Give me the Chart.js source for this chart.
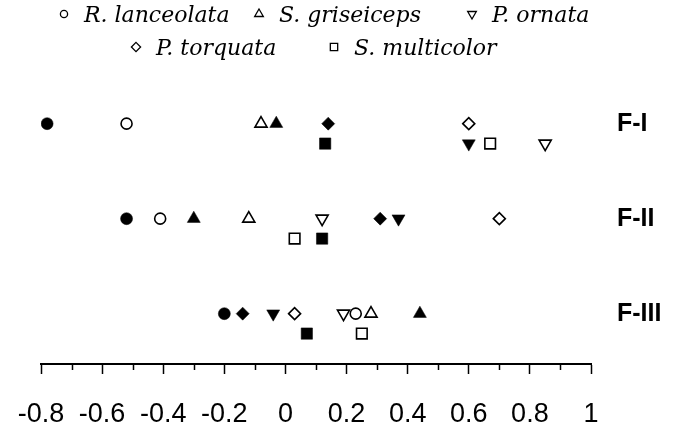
<!DOCTYPE html>
<html>
<head>
<meta charset="utf-8">
<script src="https://cdn.jsdelivr.net/npm/chart.js@4/dist/chart.umd.min.js"></script>
<style>
  html, body { margin: 0; padding: 0; background: #fff; }
  canvas { display: block; }
</style>
</head>
<body>
<canvas id="c" width="675" height="427"></canvas>
<script>
// ---- data ----
const rows = ['F-I', 'F-II', 'F-III'];
const species = ['R. lanceolata', 'S. griseiceps', 'P. ornata', 'P. torquata', 'S. multicolor'];

const lanceolataOpen   = [-0.52, -0.41, 0.23];
const lanceolataFilled = [-0.78, -0.52, -0.20];
const griseicepsOpen   = [-0.08, -0.12, 0.28];
const griseicepsFilled = [-0.03, -0.30, 0.44];
const ornataOpen       = [0.85, 0.12, 0.19];
const ornataFilled     = [0.60, 0.37, -0.04];
const torquataOpen     = [0.60, 0.70, 0.03];
const torquataFilled   = [0.14, 0.31, -0.14];
const multicolorOpen   = [0.67, 0.03, 0.25];
const multicolorFilled = [0.13, 0.12, 0.07];

// sub-row (0 = upper line, 1 = lower line) of each row
const laneUpper      = [0, 0, 0];
const ornataLane     = [1, 0, 0];
const multicolorLane = [1, 1, 1];

const xTickValues  = [-0.8, -0.6, -0.4, -0.2, 0, 0.2, 0.4, 0.6, 0.8, 1];
const xMinorTicks  = [-0.7, -0.5, -0.3, -0.1, 0.1, 0.3, 0.5, 0.7, 0.9];

// ---- styling ----
const laneOffset = 0.21;
const markers = [
  { style: 'circle',   rotation: 0,   radius: 6,   legendRadius: 3.6 },
  { style: 'triangle', rotation: 0,   radius: 7.5, legendRadius: 5 },
  { style: 'triangle', rotation: 180, radius: 7.5, legendRadius: 5 },
  { style: 'rectRot',  rotation: 0,   radius: 6.5, legendRadius: 4.6 },
  { style: 'rect',     rotation: 0,   radius: 8,   legendRadius: 5.2 }
];

function pts(values, lanes) {
  return values.map((v, i) => ({ x: v, y: i + lanes[i] * laneOffset }));
}

function ds(label, values, lanes, mi, filled) {
  const m = markers[mi];
  return {
    label: label,
    data: pts(values, lanes),
    pointStyle: m.style,
    pointRotation: m.rotation,
    pointRadius: filled ? m.radius : m.radius - 0.5,
    pointHoverRadius: m.radius,
    pointBackgroundColor: filled ? '#000' : '#fff',
    pointBorderColor: '#000',
    pointBorderWidth: filled ? 0.5 : 1.6,
    showLine: false
  };
}

const datasets = [
  ds(species[0], lanceolataOpen, laneUpper, 0, false),
  ds(species[0] + ' (filled)', lanceolataFilled, laneUpper, 0, true),
  ds(species[1], griseicepsOpen, laneUpper, 1, false),
  ds(species[1] + ' (filled)', griseicepsFilled, laneUpper, 1, true),
  ds(species[2], ornataOpen, ornataLane, 2, false),
  ds(species[2] + ' (filled)', ornataFilled, ornataLane, 2, true),
  ds(species[3], torquataOpen, laneUpper, 3, false),
  ds(species[3] + ' (filled)', torquataFilled, laneUpper, 3, true),
  ds(species[4], multicolorOpen, multicolorLane, 4, false),
  ds(species[4] + ' (filled)', multicolorFilled, multicolorLane, 4, true)
];

// ---- custom legend (two lines) ----
const legendLayout = [
  { item: 0, mx: 64,  y: 14 },
  { item: 1, mx: 259, y: 14 },
  { item: 2, mx: 472, y: 14 },
  { item: 3, mx: 136, y: 47 },
  { item: 4, mx: 334, y: 47 }
];

function drawLegendMarker(ctx, m, x, y) {
  const r = m.legendRadius;
  ctx.beginPath();
  if (m.style === 'circle') {
    ctx.arc(x, y, r, 0, Math.PI * 2);
  } else if (m.style === 'triangle') {
    const dir = m.rotation === 180 ? -1 : 1;
    ctx.moveTo(x, y - dir * r);
    ctx.lineTo(x + r * 0.866, y + dir * r * 0.5);
    ctx.lineTo(x - r * 0.866, y + dir * r * 0.5);
    ctx.closePath();
  } else if (m.style === 'rectRot') {
    ctx.moveTo(x, y - r);
    ctx.lineTo(x + r, y);
    ctx.lineTo(x, y + r);
    ctx.lineTo(x - r, y);
    ctx.closePath();
  } else {
    const s = r * Math.SQRT1_2;
    ctx.rect(x - s, y - s, 2 * s, 2 * s);
  }
  ctx.fillStyle = '#fff';
  ctx.fill();
  ctx.lineWidth = 1.3;
  ctx.strokeStyle = '#000';
  ctx.stroke();
}

const speciesLegend = {
  id: 'speciesLegend',
  afterDraw(chart) {
    const ctx = chart.ctx;
    ctx.save();
    ctx.font = 'italic 22px "DejaVu Serif"';
    ctx.textBaseline = 'middle';
    ctx.textAlign = 'left';
    legendLayout.forEach(l => {
      drawLegendMarker(ctx, markers[l.item], l.mx, l.y);
      ctx.fillStyle = '#000';
      ctx.fillText(species[l.item], l.mx + 20, l.y + 2);
    });
    ctx.restore();
  }
};

// ---- minor ticks on the x axis ----
const minorTicks = {
  id: 'minorTicks',
  afterDraw(chart) {
    const sx = chart.scales.x;
    const ctx = chart.ctx;
    ctx.save();
    ctx.strokeStyle = '#000';
    ctx.lineWidth = 1.5;
    xMinorTicks.forEach(v => {
      const px = Math.round(sx.getPixelForValue(v)) + 0.5;
      ctx.beginPath();
      ctx.moveTo(px, sx.top);
      ctx.lineTo(px, sx.top + 6);
      ctx.stroke();
    });
    ctx.restore();
  }
};

new Chart(document.getElementById('c'), {
  type: 'scatter',
  data: { datasets: datasets },
  plugins: [speciesLegend, minorTicks],
  options: {
    responsive: false,
    animation: false,
    layout: { autoPadding: false, padding: { top: 79, left: 41, right: 0, bottom: 0 } },
    plugins: {
      legend: { display: false },
      tooltip: { enabled: false },
      title: { display: false }
    },
    scales: {
      x: {
        type: 'linear',
        position: 'bottom',
        min: -0.8,
        max: 1,
        afterBuildTicks: (scale) => { scale.ticks = xTickValues.map(v => ({ value: v })); },
        afterFit: (scale) => {
          scale.height = 63;
          scale.paddingLeft = 0;
          scale.paddingRight = 0;
        },
        grid: {
          drawOnChartArea: false,
          drawTicks: true,
          tickLength: 10,
          tickWidth: 1.5,
          tickColor: '#000'
        },
        border: { display: true, color: '#000', width: 2 },
        ticks: {
          color: '#000',
          padding: 24,
          font: { family: '"Liberation Sans", Arial, sans-serif', size: 27 },
          callback: (v) => String(Math.round(v * 10) / 10)
        }
      },
      y: {
        type: 'linear',
        position: 'right',
        reverse: true,
        min: -0.47,
        max: 2.53,
        afterBuildTicks: (scale) => { scale.ticks = rows.map((r, i) => ({ value: i })); },
        afterFit: (scale) => { scale.width = 84; },
        grid: { display: false, drawTicks: false },
        border: { display: false },
        ticks: {
          color: '#000',
          padding: 26,
          font: { family: '"Liberation Sans", Arial, sans-serif', size: 25, weight: 'bold' },
          callback: (v) => rows[v]
        }
      }
    }
  }
});
</script>
</body>
</html>
